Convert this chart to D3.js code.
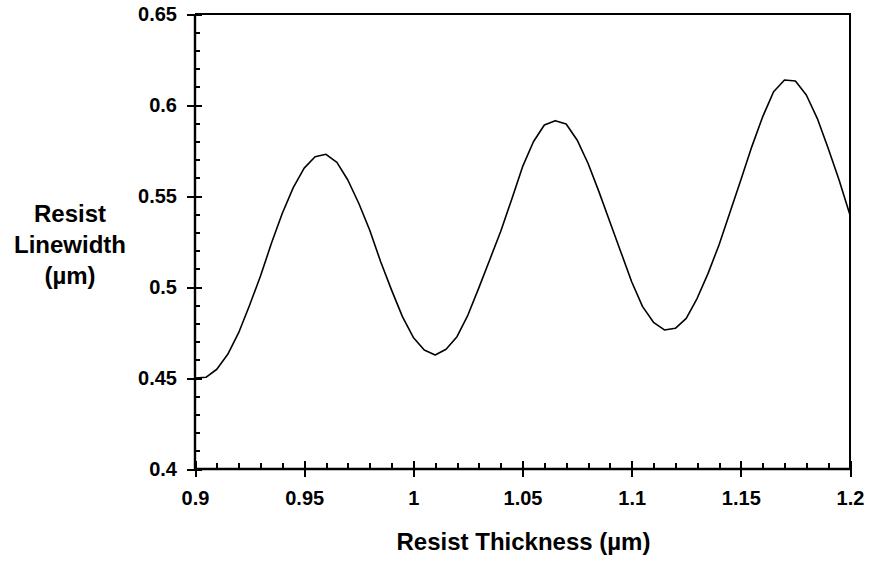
<!DOCTYPE html>
<html>
<head>
<meta charset="utf-8">
<script src="https://cdn.jsdelivr.net/npm/d3@7"></script>
<style>
  body { margin: 0; background: #fff; }
  svg text { font-family: Arial, "Liberation Sans", sans-serif; font-weight: bold; fill: #000; }
</style>
</head>
<body>
<svg width="871" height="562"></svg>
<script>
// resist linewidth vs thickness (swing curve)
const thickness = [
  0.900, 0.905, 0.910, 0.915, 0.920, 0.925, 0.930, 0.935, 0.940, 0.945,
  0.950, 0.955, 0.960, 0.965, 0.970, 0.975, 0.980, 0.985, 0.990, 0.995,
  1.000, 1.005, 1.010, 1.015, 1.020, 1.025, 1.030, 1.035, 1.040, 1.045,
  1.050, 1.055, 1.060, 1.065, 1.070, 1.075, 1.080, 1.085, 1.090, 1.095,
  1.100, 1.105, 1.110, 1.115, 1.120, 1.125, 1.130, 1.135, 1.140, 1.145,
  1.150, 1.155, 1.160, 1.165, 1.170, 1.175, 1.180, 1.185, 1.190, 1.195,
  1.200
];
const linewidth = [
  0.4500, 0.4504, 0.4548, 0.4630, 0.4749, 0.4900, 0.5060, 0.5240, 0.5405, 0.5546,
  0.5653, 0.5716, 0.5729, 0.5685, 0.5588, 0.5460, 0.5313, 0.5140, 0.4984, 0.4837,
  0.4723, 0.4654, 0.4626, 0.4658, 0.4727, 0.4846, 0.4995, 0.5150, 0.5305, 0.5480,
  0.5660, 0.5798, 0.5890, 0.5914, 0.5896, 0.5808, 0.5680, 0.5524, 0.5359, 0.5194,
  0.5029, 0.4892, 0.4806, 0.4764, 0.4773, 0.4828, 0.4938, 0.5075, 0.5231, 0.5410,
  0.5588, 0.5770, 0.5935, 0.6073, 0.6137, 0.6132, 0.6055, 0.5927, 0.5762, 0.5588,
  0.5396
];
const xTicks = [0.9, 0.95, 1, 1.05, 1.1, 1.15, 1.2];
const xTickLabels = ["0.9", "0.95", "1", "1.05", "1.1", "1.15", "1.2"];
const yTicks = [0.4, 0.45, 0.5, 0.55, 0.6, 0.65];
const yTickLabels = ["0.4", "0.45", "0.5", "0.55", "0.6", "0.65"];

const svg = d3.select("svg");
const plotL = 195, plotR = 850, plotT = 14, plotB = 469;

const x = d3.scaleLinear().domain([0.9, 1.2]).range([plotL, plotR]);
const y = d3.scaleLinear().domain([0.4, 0.65]).range([plotB, plotT]);

const notMajor = v => Math.abs(v * 20 - Math.round(v * 20)) > 1e-6;
const xMinor = d3.range(0.91, 1.2, 0.01).filter(notMajor);
const yMinor = d3.range(0.41, 0.65, 0.01).filter(notMajor);

// frame (top + right)
svg.append("path")
    .attr("d", `M${plotL},${plotT}H${plotR}V${plotB}`)
    .attr("fill", "none")
    .attr("stroke", "#000")
    .attr("stroke-width", 2)
    .attr("shape-rendering", "crispEdges");

function styleAxis(g) {
  g.attr("shape-rendering", "crispEdges");
  g.selectAll("line").attr("stroke", "#000").attr("stroke-width", 2);
  g.select(".domain").remove();
}

// left axis: majors outward with labels, majors inward, minors inward
svg.append("g")
    .attr("transform", `translate(${plotL},0)`)
    .call(d3.axisLeft(y).tickValues(yTicks).tickSize(8).tickPadding(10)
      .tickFormat((d, i) => yTickLabels[i]))
    .call(styleAxis)
    .call(g => g.selectAll("text").attr("font-size", 20).attr("font-family", null));
svg.append("g")
    .attr("transform", `translate(${plotL},0)`)
    .call(d3.axisRight(y).tickValues(yTicks).tickSize(7).tickFormat(""))
    .call(styleAxis);
svg.append("g")
    .attr("transform", `translate(${plotL},0)`)
    .call(d3.axisRight(y).tickValues(yMinor).tickSize(5).tickFormat(""))
    .call(styleAxis);

// bottom axis
svg.append("g")
    .attr("transform", `translate(0,${plotB})`)
    .call(d3.axisBottom(x).tickValues(xTicks).tickSize(8).tickPadding(14)
      .tickFormat((d, i) => xTickLabels[i]))
    .call(styleAxis)
    .call(g => g.selectAll("text").attr("font-size", 20).attr("font-family", null));
svg.append("g")
    .attr("transform", `translate(0,${plotB})`)
    .call(d3.axisTop(x).tickValues(xTicks).tickSize(8).tickFormat(""))
    .call(styleAxis);
svg.append("g")
    .attr("transform", `translate(0,${plotB})`)
    .call(d3.axisTop(x).tickValues(xMinor).tickSize(6).tickFormat(""))
    .call(styleAxis);

// axis lines
svg.append("path")
    .attr("d", `M${plotL},${plotT}V${plotB}H${plotR}`)
    .attr("fill", "none")
    .attr("stroke", "#000")
    .attr("stroke-width", 2.4);

// curve
const pts = thickness.map((t, i) => [t, linewidth[i]]);
svg.append("path")
    .datum(pts)
    .attr("fill", "none")
    .attr("stroke", "#000")
    .attr("stroke-width", 1.6)
    .attr("stroke-linejoin", "round")
    .attr("d", d3.line().x(d => x(d[0])).y(d => y(d[1])));

// titles
svg.append("text")
    .attr("x", (plotL + plotR) / 2 + 1)
    .attr("y", 550)
    .attr("text-anchor", "middle")
    .attr("font-size", 24)
    .text("Resist Thickness (\u00b5m)");

const yTitle = ["Resist", "Linewidth", "(\u00b5m)"];
svg.append("text")
    .attr("text-anchor", "middle")
    .attr("font-size", 24)
    .selectAll("tspan")
    .data(yTitle)
    .join("tspan")
      .attr("x", 70)
      .attr("y", (d, i) => 222 + i * 31)
      .text(d => d);
</script>
</body>
</html>
